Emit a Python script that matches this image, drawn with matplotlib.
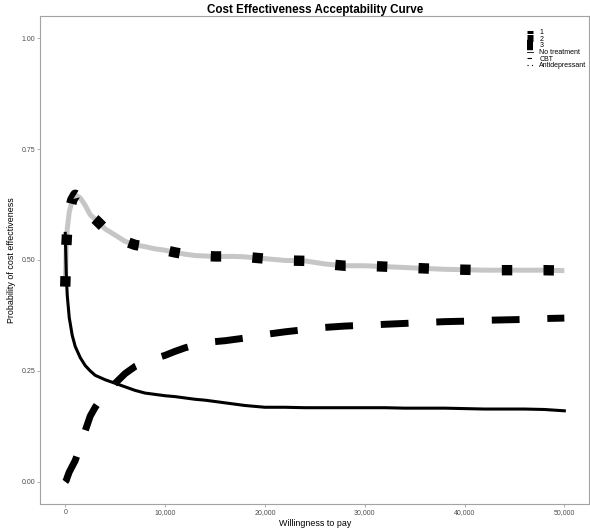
import matplotlib
matplotlib.use("Agg")
import matplotlib.pyplot as plt
from matplotlib.lines import Line2D

plt.rcParams['font.family'] = ['Liberation Sans', 'DejaVu Sans']

# Willingness-to-pay grid and probability of cost effectiveness per option
wtp = [0, 100, 200, 400, 700, 1000, 1500, 2000, 2500, 3000, 4000, 5000,
       6000, 7000, 8000, 9000, 10000, 11000, 12000, 13000, 14000, 15000,
       16000, 17000, 18000, 19000, 20000, 22000, 24000, 26000, 28000,
       30000, 32000, 34000, 36000, 38000, 40000, 42000, 44000, 46000,
       48000, 50000]

no_treatment = [0.560, 0.470, 0.420, 0.370, 0.330, 0.305, 0.280, 0.262,
                0.250, 0.240, 0.230, 0.222, 0.214, 0.206, 0.200, 0.197,
                0.194, 0.192, 0.189, 0.186, 0.184, 0.181, 0.178, 0.175,
                0.172, 0.170, 0.168, 0.168, 0.167, 0.167, 0.167, 0.167,
                0.167, 0.166, 0.166, 0.166, 0.165, 0.164, 0.164, 0.164,
                0.163, 0.160]

cbt = [0.000, 0.003, 0.010, 0.022, 0.035, 0.048, 0.080, 0.115, 0.148,
       0.168, 0.200, 0.222, 0.244, 0.260, 0.270, 0.278, 0.285, 0.294,
       0.302, 0.308, 0.312, 0.316, 0.318, 0.321, 0.324, 0.328, 0.332,
       0.338, 0.343, 0.348, 0.351, 0.353, 0.355, 0.357, 0.359, 0.361,
       0.362, 0.364, 0.365, 0.366, 0.368, 0.369]

antidepressant = [0.440, 0.527, 0.570, 0.608, 0.635, 0.647, 0.640, 0.623,
                  0.602, 0.592, 0.570, 0.556, 0.542, 0.534, 0.530, 0.525,
                  0.522, 0.517, 0.513, 0.510, 0.509, 0.508, 0.508, 0.508,
                  0.507, 0.505, 0.503, 0.499, 0.498, 0.491, 0.487, 0.487,
                  0.485, 0.483, 0.481, 0.479, 0.478, 0.477, 0.477, 0.477,
                  0.477, 0.476]

x_ticks = [0, 10000, 20000, 30000, 40000, 50000]
x_tick_labels = ["0", "10,000", "20,000", "30,000", "40,000", "50,000"]
y_ticks = [0.0, 0.25, 0.5, 0.75, 1.0]
y_tick_labels = ["0.00", "0.25", "0.50", "0.75", "1.00"]

size_levels = ["1", "2", "3"]
option_labels = ["No treatment", "CBT", "Antidepressant"]

fig = plt.figure(figsize=(5.9, 5.29), dpi=100)
ax = fig.add_axes([0.0683, 0.0473, 0.9305, 0.9225])

border = "#A3A3A3"
txt = "#4D4D4D"

# grey underlay then the three black curves
ax.plot(wtp, antidepressant, color="#C6C6C6", lw=3.6, solid_capstyle="butt", zorder=2)
ax.plot(wtp, no_treatment, color="black", lw=2.2, solid_joinstyle="round", zorder=3)
ax.plot(wtp, cbt, color="black", lw=5.0, dashes=(4, 4), dash_capstyle="butt", zorder=3)
ax.plot(wtp, antidepressant, color="black", lw=7.5, dashes=(1, 3), dash_capstyle="butt", zorder=4)

ax.set_xlim(-2500, 52500)
ax.set_ylim(-0.05, 1.05)
ax.set_xticks(x_ticks)
ax.set_xticklabels(x_tick_labels)
ax.set_yticks(y_ticks)
ax.set_yticklabels(y_tick_labels)
ax.tick_params(axis="both", length=2.0, width=0.6, color=border,
               labelsize=5.0, labelcolor=txt, pad=1.5)

for s in ax.spines.values():
    s.set_color(border)
    s.set_linewidth(0.8)

ax.set_xlabel("Willingness to pay", fontsize=6.4, color="black", labelpad=2)
ax.set_ylabel("Probability of cost effectiveness", fontsize=6.4, color="black", labelpad=4)
ax.set_title("Cost Effectiveness Acceptability Curve", fontsize=8.4,
             fontweight="bold", pad=1.5)

handles = [
    Line2D([], [], color="black", lw=2.2, solid_capstyle="butt"),
    Line2D([], [], color="black", lw=5.0, solid_capstyle="butt"),
    Line2D([], [], color="black", lw=7.5, solid_capstyle="butt"),
    Line2D([], [], color="black", lw=0.6),
    Line2D([], [], color="black", lw=0.8, dashes=(4, 4)),
    Line2D([], [], color="black", lw=0.8, dashes=(1, 3)),
]
ax.legend(handles, size_levels + option_labels, loc="upper left",
          bbox_to_anchor=(0.887, 0.973), frameon=False, fontsize=5.0,
          handlelength=0.85, handletextpad=0.9, labelspacing=-0.05,
          borderpad=0, borderaxespad=0, handleheight=0.6)

fig.savefig("out.png", dpi=100)
